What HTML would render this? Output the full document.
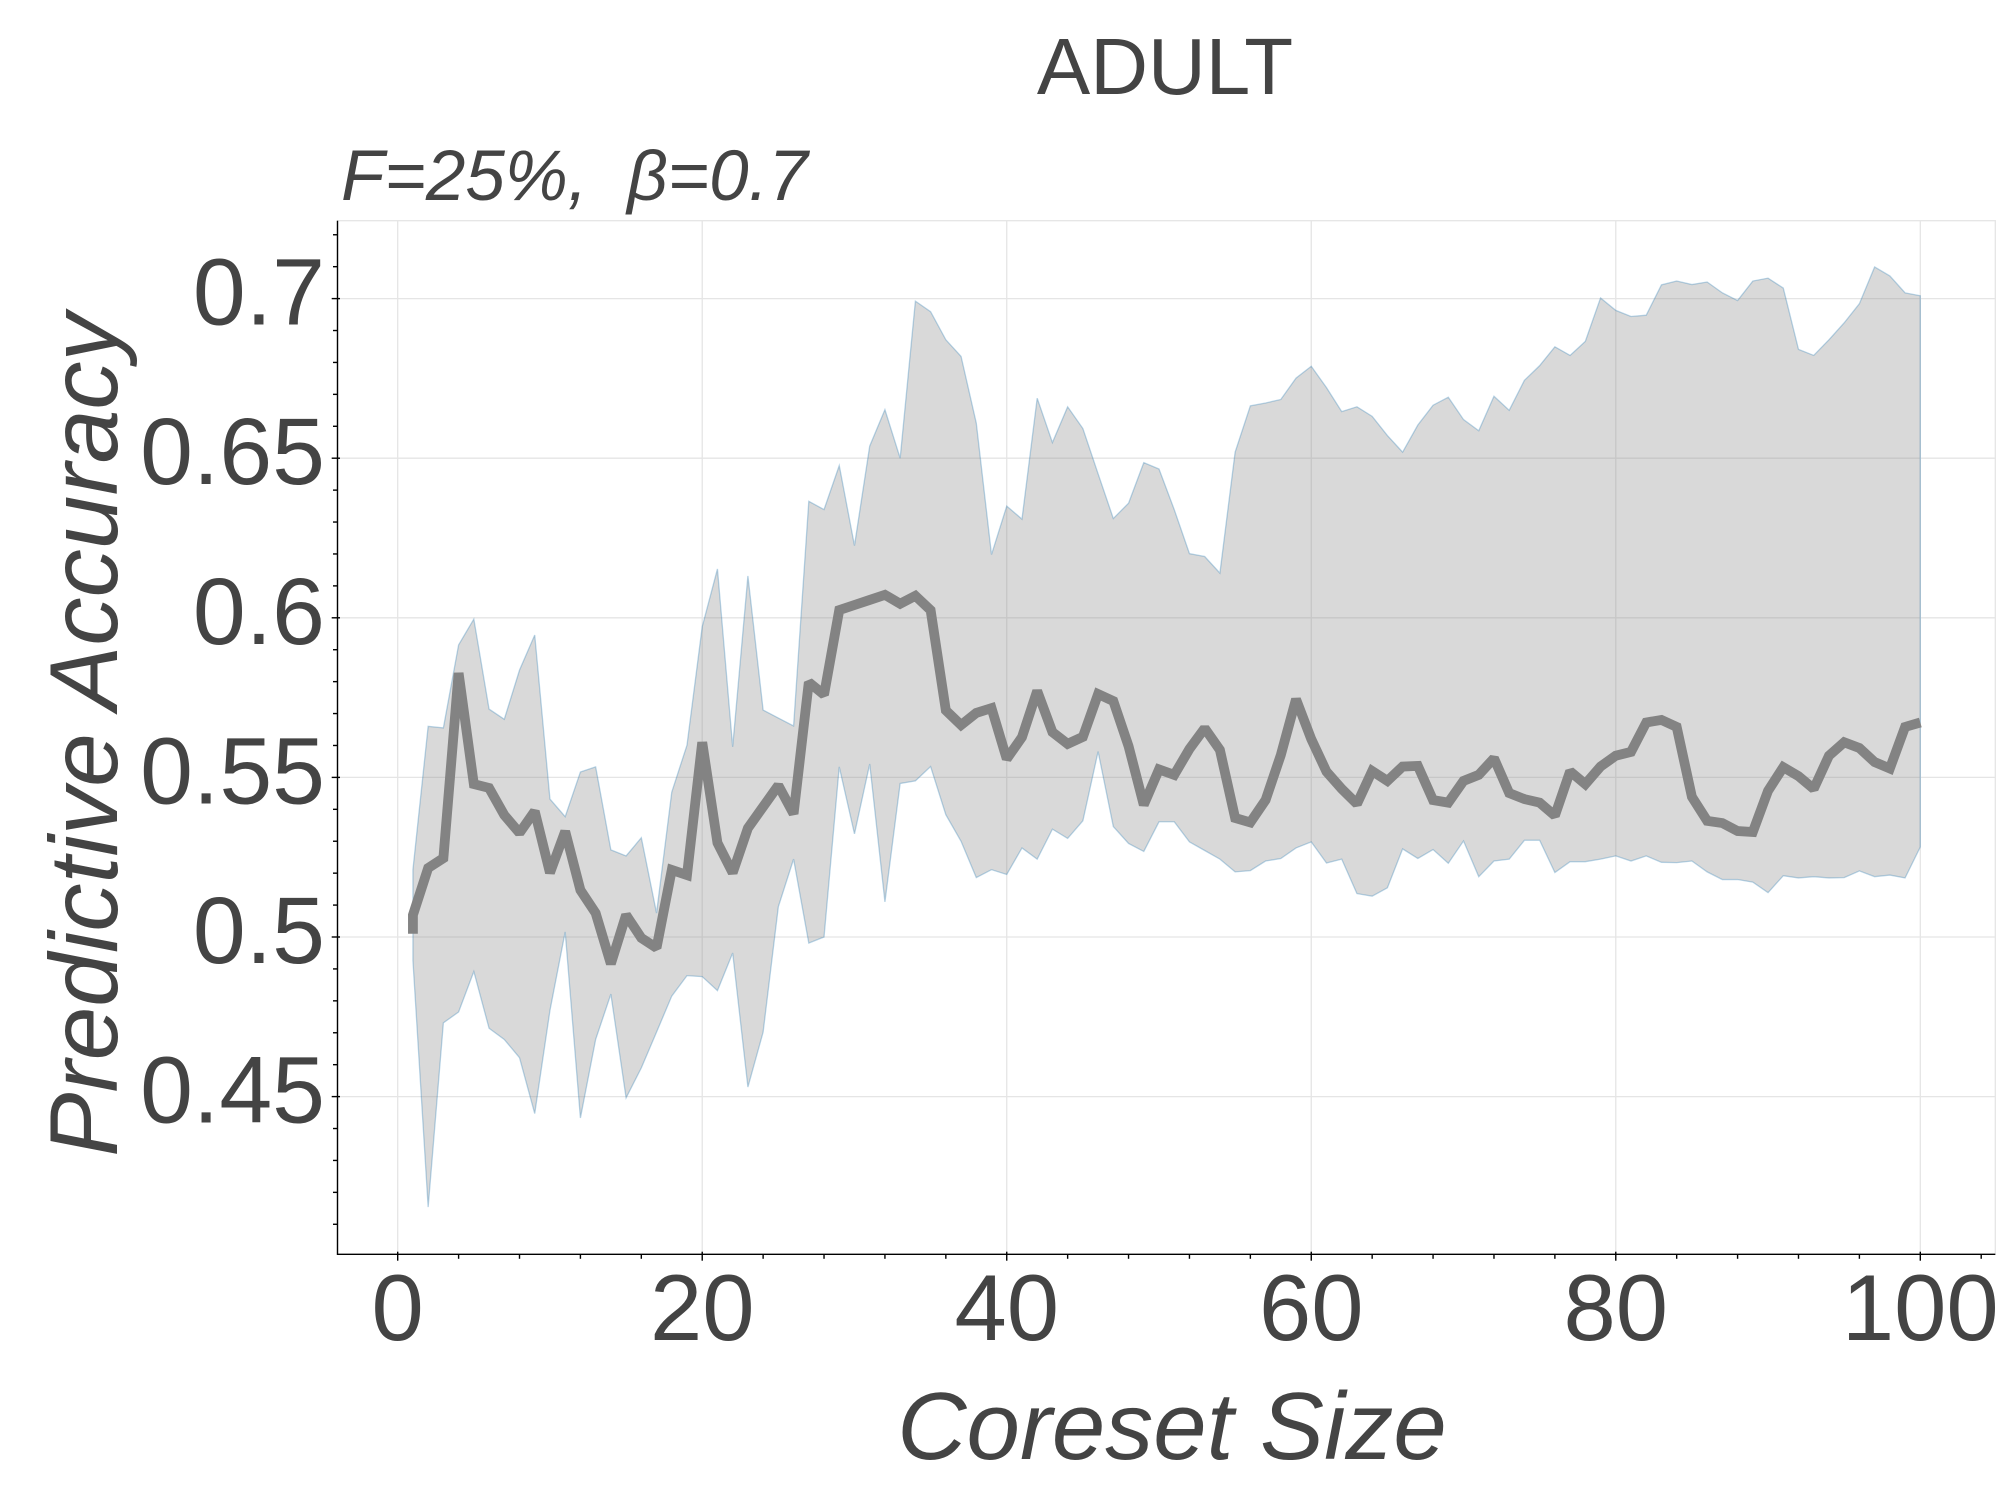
<!DOCTYPE html>
<html lang="en">
<head>
<meta charset="utf-8">
<title>ADULT Predictive Accuracy vs Coreset Size</title>
<style>
html,body{margin:0;padding:0;background:#fff;width:2000px;height:1500px;overflow:hidden}
svg{display:block}
text{font-family:"Liberation Sans",sans-serif;fill:#444;white-space:pre}
</style>
</head>
<body>
<svg id="chart" xmlns="http://www.w3.org/2000/svg" width="2000" height="1500" viewBox="0 0 2000 1500">
  <text x="1165" y="94" font-size="80" text-anchor="middle">ADULT</text>
  <text x="341" y="200" font-size="71" font-style="italic" xml:space="preserve">F=25%,  β=0.7</text>
  <text x="1172" y="1459" font-size="96" font-style="italic" text-anchor="middle">Coreset Size</text>
  <text transform="translate(117 735) rotate(-90)" font-size="96.5" font-style="italic" text-anchor="middle">Predictive Accuracy</text>
</svg>
<script>
const coresetSizes = [1,1,2,3,4,5,6,7,8,9,10,11,12,13,14,15,16,17,18,19,20,21,22,23,24,25,26,27,28,29,30,31,32,33,34,35,36,37,38,39,40,41,42,43,44,45,46,47,48,49,50,51,52,53,54,55,56,57,58,59,60,61,62,63,64,65,66,67,68,69,70,71,72,73,74,75,76,77,78,79,80,81,82,83,84,85,86,87,88,89,90,91,92,93,94,95,96,97,98,99,100];
const meanAccuracy = [0.501,0.5069,0.5216,0.5247,0.5827,0.5479,0.5467,0.5382,0.5326,0.5394,0.5201,0.5331,0.5147,0.5075,0.4916,0.5069,0.4997,0.4966,0.521,0.5194,0.561,0.5295,0.5201,0.5341,0.5408,0.5475,0.5386,0.5798,0.5759,0.6024,0.604,0.6056,0.6072,0.6044,0.6069,0.6024,0.571,0.5664,0.5702,0.5717,0.5558,0.5626,0.5771,0.5642,0.5605,0.5627,0.5761,0.5739,0.5598,0.5414,0.5525,0.5508,0.5589,0.5654,0.5586,0.5373,0.5359,0.5429,0.557,0.5745,0.562,0.5518,0.5464,0.5417,0.552,0.5489,0.5534,0.5536,0.5429,0.5421,0.5489,0.5508,0.556,0.5451,0.5432,0.5421,0.538,0.5519,0.5479,0.5534,0.5568,0.558,0.5672,0.568,0.5658,0.5439,0.5364,0.5357,0.5332,0.5329,0.5458,0.5532,0.5504,0.5464,0.5568,0.561,0.5592,0.5548,0.5528,0.5658,0.5672];
const upperBound = [0.5211,0.5211,0.566,0.5655,0.5915,0.5996,0.5714,0.5682,0.5836,0.5946,0.5432,0.5377,0.5517,0.5533,0.5273,0.5254,0.5311,0.5075,0.5454,0.5601,0.5972,0.6153,0.5596,0.6131,0.5711,0.5686,0.5661,0.6365,0.6339,0.6477,0.6226,0.6538,0.6652,0.65,0.6992,0.6959,0.6871,0.6819,0.661,0.6198,0.635,0.6309,0.6688,0.6549,0.6661,0.6593,0.6451,0.6311,0.6359,0.6486,0.6466,0.6339,0.6201,0.6192,0.614,0.6519,0.6664,0.6673,0.6684,0.6751,0.6788,0.6721,0.6646,0.6661,0.6631,0.6571,0.6519,0.6604,0.6666,0.6691,0.6621,0.6586,0.6694,0.665,0.6744,0.679,0.6849,0.6822,0.6866,0.7002,0.6963,0.6944,0.6948,0.7043,0.7055,0.7044,0.7052,0.7018,0.6994,0.7055,0.7064,0.7033,0.6841,0.6822,0.6871,0.6924,0.6984,0.7099,0.7071,0.7018,0.7009];
const lowerBound = [0.4926,0.4926,0.4154,0.4731,0.4765,0.4892,0.4714,0.4679,0.4622,0.4447,0.477,0.5016,0.4433,0.4679,0.4821,0.4496,0.459,0.4702,0.4815,0.4879,0.4876,0.4832,0.495,0.453,0.4702,0.5095,0.5244,0.4981,0.5,0.5533,0.5323,0.5542,0.511,0.5481,0.5489,0.5534,0.5383,0.53,0.5186,0.5211,0.5196,0.5279,0.5244,0.5338,0.5309,0.5364,0.5581,0.5346,0.5293,0.5268,0.5361,0.5361,0.5298,0.5271,0.5244,0.5204,0.5208,0.5238,0.5246,0.5279,0.5298,0.5232,0.5244,0.5136,0.5128,0.5154,0.5276,0.5246,0.5274,0.5231,0.5301,0.5189,0.5238,0.5244,0.5303,0.5303,0.5202,0.5236,0.5236,0.5244,0.5254,0.5238,0.5254,0.5234,0.5233,0.5238,0.5204,0.518,0.518,0.5172,0.5139,0.5192,0.5185,0.5189,0.5185,0.5186,0.5207,0.5189,0.5194,0.5185,0.5282];
const xTickValues = [0,20,40,60,80,100];
const xTickLabels = ["0","20","40","60","80","100"];
const yTickValues = [0.45,0.5,0.55,0.6,0.65,0.7];
const yTickLabels = ["0.45","0.5","0.55","0.6","0.65","0.7"];
const xMinorTicks = [4,8,12,16,24,28,32,36,44,48,52,56,64,68,72,76,84,88,92,96,104];
const yMinorTicks = [0.41,0.42,0.43,0.44,0.46,0.47,0.48,0.49,0.51,0.52,0.53,0.54,0.56,0.57,0.58,0.59,0.61,0.62,0.63,0.64,0.66,0.67,0.68,0.69,0.71,0.72];

const PLOT = {left: 337.5, right: 1995.3, top: 220.7, bottom: 1254.3};
const xScale = v => 397.7 + v * 15.226;
const yScale = v => 937 - (v - 0.5) * 3192;
const NS = 'http://www.w3.org/2000/svg';
const chart = document.getElementById('chart');
const firstText = chart.querySelector('text');

function node(tag, attrs, parent) {
  const el = document.createElementNS(NS, tag);
  for (const k in attrs) el.setAttribute(k, attrs[k]);
  (parent || chart).insertBefore(el, parent ? null : firstText);
  return el;
}

function linePoints(values) {
  return values.map((v, i) => xScale(coresetSizes[i]).toFixed(2) + ',' + yScale(v).toFixed(2));
}

// plot outline
const outline = node('rect', {x: PLOT.left, y: PLOT.top, width: PLOT.right - PLOT.left, height: PLOT.bottom - PLOT.top, fill: 'none', stroke: '#e5e5e5', 'stroke-width': 1.3});



// grid
const gridGroup = node('g', {stroke: '#e5e5e5', 'stroke-width': 1.3});


xTickValues.forEach(v => {
  const l = node('line', {x1: xScale(v), x2: xScale(v), y1: PLOT.top, y2: PLOT.bottom}, gridGroup);
  
  
});
yTickValues.forEach(v => {
  const l = node('line', {x1: PLOT.left, x2: PLOT.right, y1: yScale(v), y2: yScale(v)}, gridGroup);
  
  
});

// confidence band
const bandPts = linePoints(upperBound).concat(linePoints(lowerBound).reverse());
const band = node('polygon', {points: bandPts.join(' '), fill: '#808080', 'fill-opacity': 0.3, stroke: '#1f77b4', 'stroke-opacity': 0.3, 'stroke-width': 1.3, 'stroke-linejoin': 'miter'});



// mean line
const meanLine = node('polyline', {points: linePoints(meanAccuracy).join(' '), fill: 'none', stroke: '#838383', 'stroke-width': 9.8, 'stroke-linejoin': 'miter', 'stroke-miterlimit': 1.6, 'stroke-linecap': 'butt'});



// axes
const axisGroup = node('g', {stroke: '#000', 'stroke-width': 1.4});


const yAxisLine = node('line', {x1: PLOT.left, x2: PLOT.left, y1: PLOT.top, y2: PLOT.bottom + 0.7}, axisGroup);


const xAxisLine = node('line', {x1: PLOT.left, x2: PLOT.right, y1: PLOT.bottom, y2: PLOT.bottom}, axisGroup);



xMinorTicks.forEach(v => {
  const l = node('line', {x1: xScale(v), x2: xScale(v), y1: PLOT.bottom, y2: PLOT.bottom + 4.5}, axisGroup);
  
  
});
yMinorTicks.forEach(v => {
  const l = node('line', {x1: PLOT.left - 4.5, x2: PLOT.left, y1: yScale(v), y2: yScale(v)}, axisGroup);
  
  
});

xTickValues.forEach((v, i) => {
  const l = node('line', {x1: xScale(v), x2: xScale(v), y1: PLOT.bottom - 2.6, y2: PLOT.bottom + 6.4}, axisGroup);
  
  
  const t = node('text', {x: xScale(v), y: 1340, 'font-size': 94, 'text-anchor': 'middle'});
  
  
  t.textContent = xTickLabels[i];
});
yTickValues.forEach((v, i) => {
  const l = node('line', {x1: PLOT.left - 5.8, x2: PLOT.left + 2.5, y1: yScale(v), y2: yScale(v)}, axisGroup);
  
  
  const t = node('text', {x: 325, y: yScale(v) + 26, 'font-size': 95, 'text-anchor': 'end'});
  
  
  t.textContent = yTickLabels[i];
});
</script>
</body>
</html>
